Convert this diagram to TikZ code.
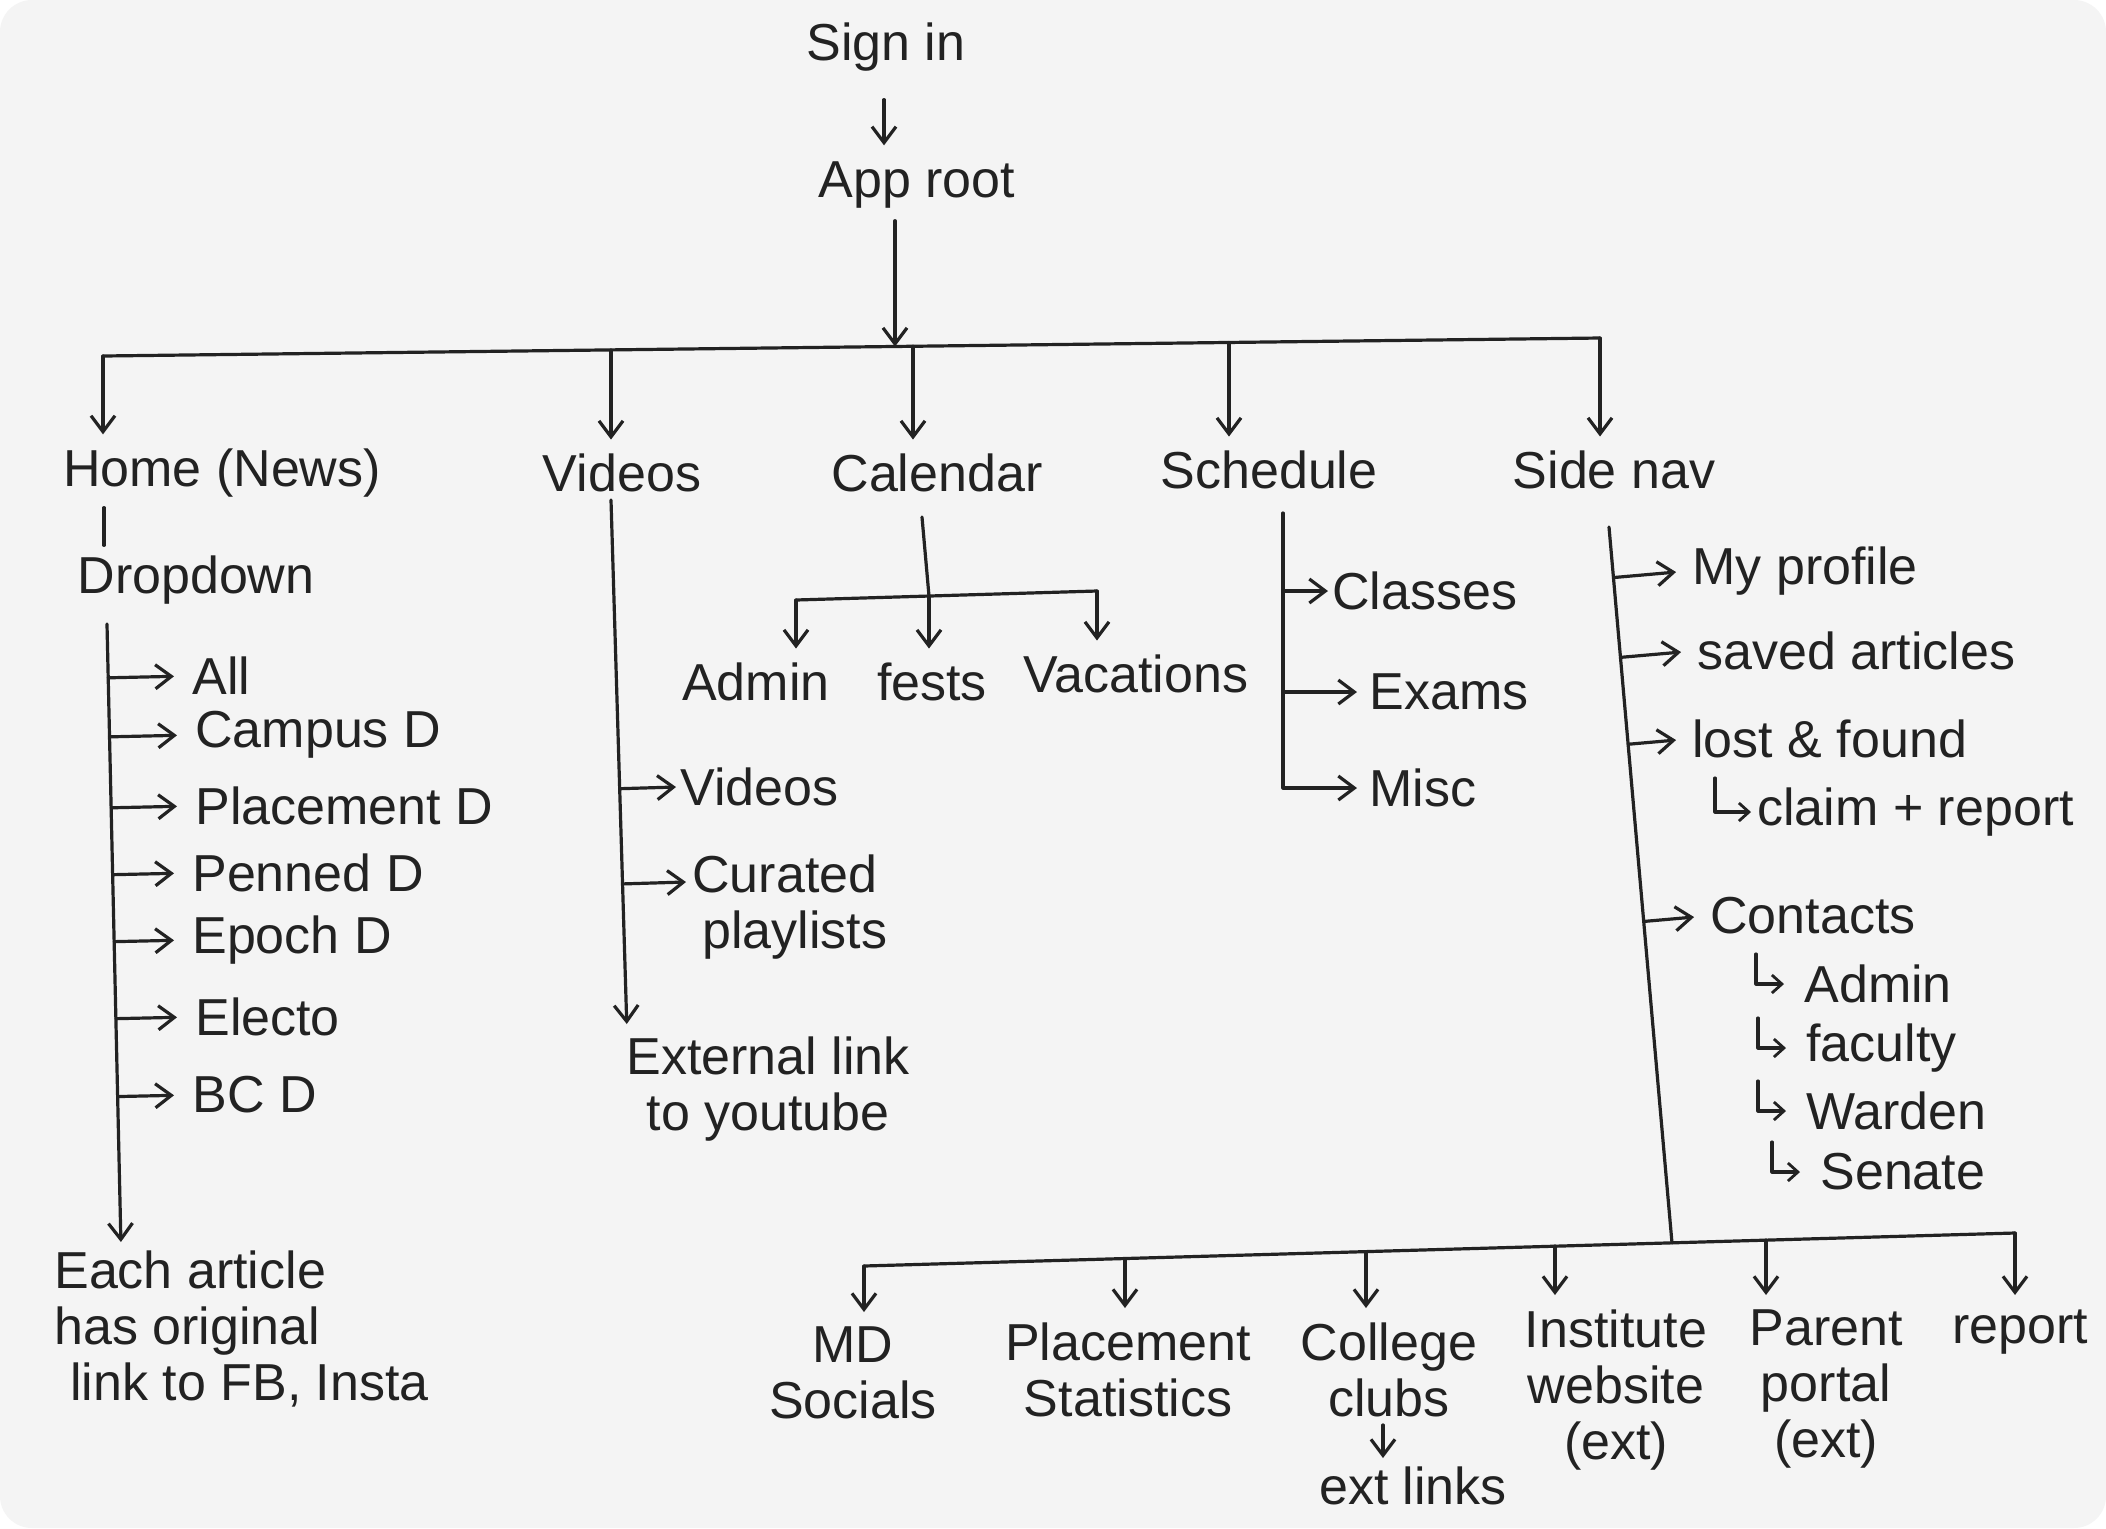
\documentclass[tikz,border=0pt]{standalone}
\usepackage{fontspec}
\setmainfont{Liberation Sans}
\usetikzlibrary{arrows.meta,calc}
\definecolor{paper}{HTML}{F4F4F4}
\definecolor{ink}{HTML}{222222}
\begin{document}
\begin{tikzpicture}[x=0.5pt,y=-0.5pt,
  lab/.style={font=\fontsize{26}{28}\selectfont, text=ink, inner sep=2pt},
  conn/.style={draw=ink, line width=1.6pt, line cap=round, line join=round},
  arr/.style={conn, -{Straight Barb[length=8pt,width=12pt,line width=1.6pt]}},
  sarr/.style={conn, -{Straight Barb[length=5pt,width=9pt,line width=1.4pt]}},
  drop/.style={arr, shorten >=5pt}]
\fill[white] (0,0) rectangle (2106,1528);
\fill[paper, rounded corners=16pt] (0,0) rectangle (2106,1528);
\useasboundingbox (0,0) rectangle (2106,1528);

% ---- top
\node[lab] (signin) at (886,47) {Sign in};
\node[lab] (approot) at (917,185) {App root};
\coordinate (sx) at (884,0);
\draw[arr, shorten <=12pt, shorten >=6pt] (signin.south -| sx) -- (approot.north -| sx);

\coordinate (busL) at (103,356);
\coordinate (busR) at (1600,338);
\coordinate (bVid) at (611,350);
\coordinate (bRoot) at (895,346.5);
\coordinate (bCal) at (913,346.3);
\coordinate (bSch) at (1229,342.5);
\draw[conn] (busL) -- (busR);
\draw[arr, shorten <=4pt] (approot.south -| bRoot) -- (bRoot);

\node[lab] (home) at (222,473) {Home (News)};
\node[lab] (videos) at (622,473) {Videos};
\node[lab] (calendar) at (937,473) {Calendar};
\node[lab] (schedule) at (1269,470) {Schedule};
\node[lab] (sidenav) at (1614,470) {Side nav};
\draw[drop] (busL) -- (home.north -| busL);
\draw[drop] (bVid) -- (videos.north -| bVid);
\draw[drop] (bCal) -- (calendar.north -| bCal);
\draw[drop] (bSch) -- (schedule.north -| bSch);
\draw[drop] (busR) -- (sidenav.north -| busR);

% ---- home
\node[lab] (dropdown) at (196,580) {Dropdown};
\coordinate (hx) at (104,0);
\draw[conn, shorten <=3pt, shorten >=3pt] (home.south -| hx) -- (dropdown.north -| hx);
\coordinate (ddT) at (107,624);
\coordinate (ddB) at (121,1242);
\node[lab, anchor=north west, align=left] (note) at (50,1246) {Each article\\has original\\\hspace*{8pt}link to FB, Insta};
\draw[arr, shorten >=2pt] (ddT) -- (note.north -| ddB);
\foreach \n/\y/\x/\t in {all/676/188/All, campus/735/191/Campus D, placement/806/191/Placement D, penned/873/188/Penned D, epoch/940/188/Epoch D, electo/1017/191/Electo, bc/1095/188/BC D}{
  \node[lab, anchor=west] (\n) at (\x,\y) {\t};
  \draw[arr, shorten >=7pt] ($(ddT)!(\n.west)!(ddB)$) -- (\n.west);
}

% ---- videos
\coordinate (vT) at (611,500);
\coordinate (vB) at (627,1021);
\node[lab, anchor=north, align=center] (ext) at (768,1032) {External link\\to youtube};
\draw[arr, shorten >=4pt] (vT) -- (ext.north -| vB);
\node[lab, anchor=west] (vid2) at (676,787) {Videos};
\draw[arr] ($(vT)!(vid2.west)!(vB)$) -- (vid2.west);
\node[lab, anchor=north west, align=left] (cur) at (688,850) {Curated\\\hspace*{5pt}playlists};
\coordinate (curA) at ($(cur.north west)+(-2,32)$);
\draw[arr] ($(vT)!(curA)!(vB)$) -- (curA);

% ---- calendar
\coordinate (cT) at (922,517);
\coordinate (cJ) at (929,596);
\coordinate (cL) at (796,600);
\coordinate (cR) at (1097,591);
\draw[conn] (cT) -- (cJ);
\draw[conn] (cL) -- (cR);
\node[lab] (admin) at (756,682) {Admin};
\node[lab] (fests) at (932,682) {fests};
\node[lab] (vac) at (1136,674) {Vacations};
\draw[drop] (cL) -- (admin.north -| cL);
\draw[drop] (cJ) -- (fests.north -| cJ);
\draw[drop] (cR) -- (vac.north -| cR);

% ---- schedule
\coordinate (schT) at (1283,513);
\node[lab, anchor=west] (classes) at (1328,591) {Classes};
\node[lab, anchor=west] (exams) at (1365,692) {Exams};
\node[lab, anchor=west] (misc) at (1365,788) {Misc};
\draw[arr, shorten >=4pt] (schT) |- (misc.west);
\draw[arr] (schT |- classes.west) -- (classes.west);
\draw[arr, shorten >=4pt] (schT |- exams.west) -- (exams.west);

% ---- side nav
\coordinate (sT) at (1609,527);
\coordinate (sB) at (1672,1243);
\draw[conn] (sT) -- (sB);
\node[lab, anchor=west] (prof) at (1688,571) {My profile};
\node[lab, anchor=west] (saved) at (1693,651) {saved articles};
\node[lab, anchor=west] (lost) at (1688,739) {lost \& found};
\node[lab, anchor=west] (claim) at (1753,812) {claim + report};
\node[lab, anchor=west] (contacts) at (1706,916) {Contacts};
\node[lab, anchor=west] (cadmin) at (1800,984) {Admin};
\node[lab, anchor=west] (faculty) at (1802,1048) {faculty};
\node[lab, anchor=west] (warden) at (1802,1111) {Warden};
\node[lab, anchor=west] (senate) at (1816,1172) {Senate};
\foreach \n in {prof,saved,lost,contacts}{
  \draw[arr, shorten >=6pt] ($(sT)!(\n.west)!(sB)$) -- (\n.west);
}
\draw[sarr] ($(claim.west)+(-38,-34)$) |- ($(claim.west)+(-2,0)$);
\foreach \n in {cadmin,faculty,warden,senate}{
  \draw[sarr] ($(\n.west)+(-44,-30)$) |- ($(\n.west)+(-16,0)$);
}

% ---- bottom
\coordinate (bb1) at (864,1266);
\coordinate (bb2) at (1125,1259);
\coordinate (bb3) at (1366,1252);
\coordinate (bb4) at (1555,1246);
\coordinate (bb5) at (1766,1240);
\coordinate (bbR) at (2015,1233);
\draw[conn] (bb1) -- (bbR);
\node[lab, anchor=north, align=center] (msoc) at (853,1322) {MD\\Socials};
\node[lab, anchor=north, align=center] (pstat) at (1128,1318) {Placement\\Statistics};
\node[lab, anchor=north, align=center] (clubs) at (1389,1318) {College\\clubs};
\node[lab, anchor=north] (extl) at (1413,1462) {ext links};
\node[lab, anchor=north, align=center] (inst) at (1616,1305) {Institute\\website\\(ext)};
\node[lab, anchor=north, align=center] (parent) at (1826,1305) {Parent\\portal\\(ext)};
\node[lab, anchor=north] (report) at (2020,1305) {report};
\draw[drop] (bb1) -- (msoc.north -| bb1);
\draw[drop] (bb2) -- (pstat.north -| bb2);
\draw[drop] (bb3) -- (clubs.north -| bb3);
\draw[drop] (bb4) -- (inst.north -| bb4);
\draw[drop] (bb5) -- (parent.north -| bb5);
\draw[drop] (bbR) -- (report.north -| bbR);
\coordinate (cx) at (1383,0);
\draw[arr, shorten <=2pt, shorten >=2pt] (clubs.south -| cx) -- (extl.north -| cx);
\end{tikzpicture}
\end{document}
